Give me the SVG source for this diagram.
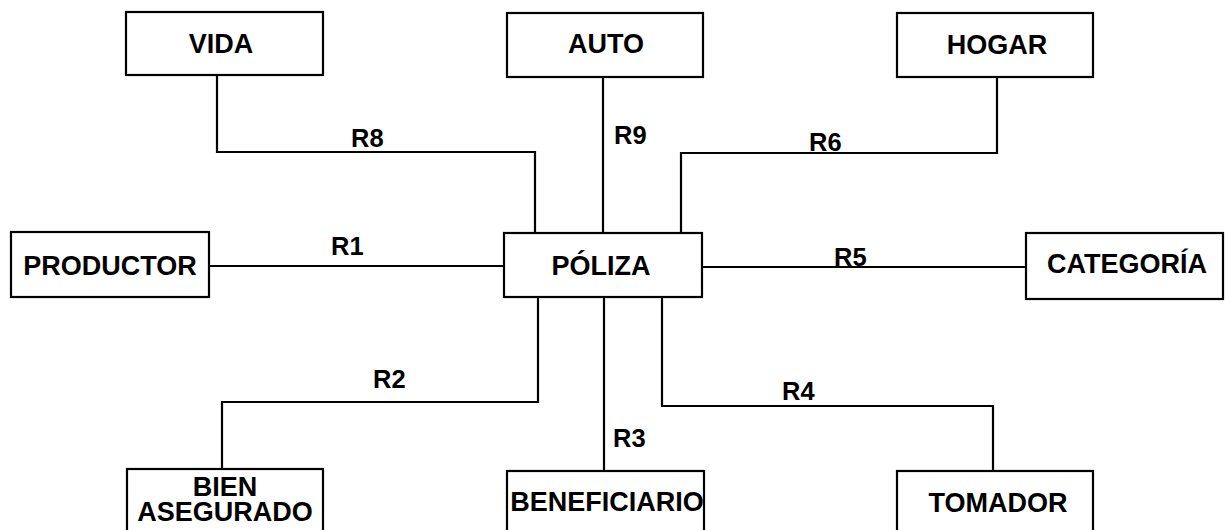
<svg xmlns="http://www.w3.org/2000/svg" width="1225" height="530" viewBox="0 0 1225 530">
  <style>
    .box { fill: #ffffff; stroke: #000000; stroke-width: 2.2; }
    .name { font-family: "Liberation Sans", Arial, sans-serif; font-weight: bold; font-size: 27px; text-anchor: middle; fill: #000000; }
    .rel { font-family: "Liberation Sans", Arial, sans-serif; font-weight: bold; font-size: 25.5px; fill: #000000; }
    .link { fill: none; stroke: #000000; stroke-width: 2.2; }
  </style>
  <rect width="1225" height="530" fill="#ffffff"/>

  <!-- relationship connectors -->
  <g id="connectors">
    <polyline class="link" points="217,75 217,152 535,152 535,233"/>
    <line class="link" x1="603" y1="77" x2="603" y2="233"/>
    <polyline class="link" points="997,77 997,153 681,153 681,233"/>
    <line class="link" x1="209" y1="266" x2="504" y2="266"/>
    <line class="link" x1="702" y1="267" x2="1026" y2="267"/>
    <polyline class="link" points="538,297 538,402 222,402 222,469"/>
    <line class="link" x1="604" y1="297" x2="604" y2="471"/>
    <polyline class="link" points="662,297 662,406 993,406 993,471"/>
  </g>

  <!-- relationship labels -->
  <g id="labels">
    <text class="rel" x="351" y="147">R8</text>
    <text class="rel" x="614" y="144">R9</text>
    <text class="rel" x="809" y="151">R6</text>
    <text class="rel" x="331" y="255">R1</text>
    <text class="rel" x="834" y="266">R5</text>
    <text class="rel" x="373" y="388">R2</text>
    <text class="rel" x="782" y="400">R4</text>
    <text class="rel" x="613" y="447">R3</text>
  </g>

  <g id="vida">
    <rect class="box" x="126" y="12" width="197" height="63"/>
    <text class="name" x="221" y="53">VIDA</text>
  </g>
  <g id="auto">
    <rect class="box" x="507" y="13" width="196" height="64"/>
    <text class="name" x="606" y="53">AUTO</text>
  </g>
  <g id="hogar">
    <rect class="box" x="897" y="13" width="196" height="64"/>
    <text class="name" x="997" y="54">HOGAR</text>
  </g>
  <g id="productor">
    <rect class="box" x="11" y="232" width="198" height="65"/>
    <text class="name" x="110" y="275">PRODUCTOR</text>
  </g>
  <g id="poliza">
    <rect class="box" x="504" y="233" width="198" height="64"/>
    <text class="name" x="601" y="275">PÓLIZA</text>
  </g>
  <g id="categoria">
    <rect class="box" x="1026" y="233" width="197" height="66"/>
    <text class="name" x="1127" y="273">CATEGORÍA</text>
  </g>
  <g id="bien-asegurado">
    <rect class="box" x="127" y="469" width="196" height="70"/>
    <text class="name" x="225" y="496">BIEN</text>
    <text class="name" x="225" y="521">ASEGURADO</text>
  </g>
  <g id="beneficiario">
    <rect class="box" x="507" y="471" width="197" height="70"/>
    <text class="name" x="607" y="511">BENEFICIARIO</text>
  </g>
  <g id="tomador">
    <rect class="box" x="897" y="471" width="196" height="70"/>
    <text class="name" x="998" y="512">TOMADOR</text>
  </g>
</svg>
